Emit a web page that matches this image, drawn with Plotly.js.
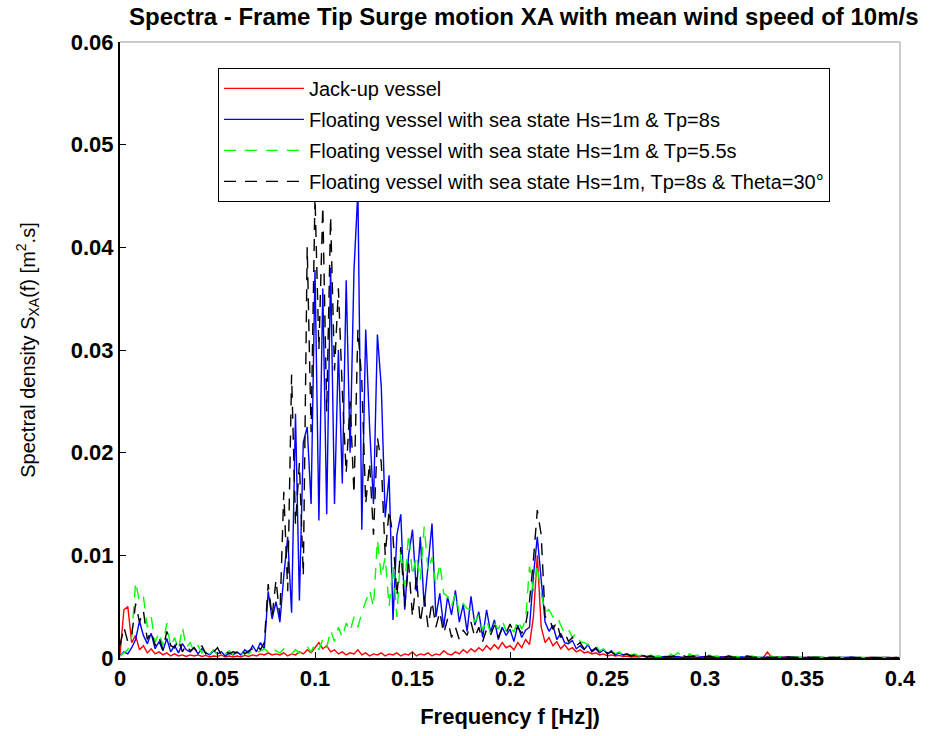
<!DOCTYPE html>
<html>
<head>
<meta charset="utf-8">
<script src="https://cdn.plot.ly/plotly-3.0.1.min.js"></script>
<style>html,body{margin:0;padding:0;background:#fff}#chart{width:937px;height:736px}</style>
</head>
<body>
<div id="chart"></div>
<script>
// Frequency grid: starts at 0 Hz, step 0.002 Hz (201 points up to 0.4 Hz)
const freqStart = 0;
const freqStep = 0.002;

// Spectral density values in units of 1e-3 m^2.s
const jackUp = [
0.3,4.7,5.0,1.5,2.2,0.8,1.2,0.5,0.9,0.4,
0.6,0.3,0.5,0.2,0.4,0.2,0.3,0.15,0.3,0.2,
0.3,0.15,0.25,0.1,0.2,0.15,0.3,0.1,0.2,0.1,
0.2,0.1,0.25,0.15,0.3,0.2,0.4,0.3,0.5,0.3,
0.4,0.3,0.5,0.2,0.4,0.3,0.6,0.4,0.8,0.5,
1.0,1.5,0.9,1.2,0.6,0.8,0.4,0.6,0.3,0.5,
0.4,0.8,0.3,0.5,0.2,0.4,0.3,0.5,0.2,0.4,
0.3,0.5,0.2,0.4,0.3,0.6,0.2,0.4,0.3,0.5,
0.2,0.4,0.3,0.7,0.4,0.3,0.6,0.4,0.8,0.5,
0.9,0.6,1.0,0.7,1.2,0.8,1.3,0.9,1.5,1.0,
1.2,0.8,1.5,1.0,1.8,1.3,4.0,10.0,3.0,1.5,
2.0,1.2,1.6,0.9,1.3,0.8,1.0,0.6,0.8,0.5,
0.6,0.4,0.5,0.3,0.4,0.2,0.3,0.2,0.25,0.15,
0.2,0.1,0.15,0.1,0.2,0.08,0.1,0.05,0.1,0.05,
0.05,0.1,0.05,0.08,0.1,0.05,0.03,0.08,0.05,0.1,
0.05,0.03,0.06,0.05,0.1,0.04,0.05,0.03,0.06,0.05,
0.04,0.06,0.1,0.05,0.03,0.05,0.6,0.1,0.05,0.08,
0.05,0.1,0.05,0.03,0.06,0.04,0.05,0.08,0.04,0.05,
0.03,0.05,0.04,0.06,0.03,0.05,0.04,0.03,0.05,0.04,
0.03,0.04,0.05,0.03,0.04,0.03,0.05,0.04,0.03,0.04,
0.03];

const floatTp8 = [
0.2,0.6,0.4,1.0,1.8,3.6,2.2,1.4,2.4,0.9,
1.6,0.7,1.9,0.6,1.2,0.5,1.4,0.8,0.6,1.0,
0.4,0.9,0.5,0.3,0.7,0.4,0.6,0.2,0.5,0.3,
0.6,0.3,0.8,0.5,1.2,0.6,1.5,0.9,6.5,3.8,
5.5,3.5,8.0,11.8,4.4,23.8,5.6,21.0,22.5,15.0,
37.8,13.4,36.0,14.0,38.0,15.0,30.0,17.0,36.8,20.0,
37.8,45.5,12.5,32.0,22.5,15.0,31.5,26.4,13.7,17.8,
3.7,12.0,14.0,4.7,10.0,12.5,6.5,11.8,5.0,9.0,
13.1,4.0,6.3,3.0,6.0,4.2,6.6,3.5,5.2,2.6,
6.0,3.2,4.5,2.0,4.7,2.5,3.7,1.8,3.0,2.2,
2.8,1.6,3.2,2.0,2.7,3.0,8.0,11.8,7.6,3.5,
2.6,3.2,1.8,2.4,1.5,1.4,1.7,0.9,1.2,0.8,
1.3,0.6,0.9,0.5,0.8,0.4,0.7,0.3,0.5,0.3,
0.4,0.2,0.3,0.2,0.25,0.15,0.2,0.1,0.15,0.1,
0.1,0.2,0.1,0.15,0.05,0.1,0.2,0.1,0.05,0.1,
0.15,0.1,0.05,0.1,0.08,0.05,0.1,0.15,0.05,0.1,
0.08,0.05,0.1,0.06,0.05,0.08,0.1,0.05,0.06,0.1,
0.05,0.08,0.1,0.05,0.06,0.04,0.08,0.05,0.1,0.05,
0.06,0.04,0.05,0.08,0.05,0.04,0.06,0.05,0.08,0.04,
0.05,0.06,0.04,0.05,0.03,0.05,0.04,0.06,0.04,0.05,
0.04];

const floatTp55 = [
0.2,0.5,0.8,2.0,7.4,5.5,6.0,3.0,4.0,1.5,
2.5,1.2,3.4,1.0,2.0,0.8,3.0,1.0,1.5,0.6,
1.2,0.5,0.9,0.4,0.8,0.3,0.6,0.4,0.7,0.3,
0.5,0.3,0.6,0.4,0.8,0.5,0.7,0.9,0.6,1.0,
0.7,0.5,0.9,0.6,0.4,0.8,0.5,0.7,1.1,0.6,
1.4,0.8,1.8,1.0,2.7,1.6,3.0,2.0,3.4,2.6,
4.0,3.0,4.4,5.5,6.6,5.0,11.5,7.9,9.8,5.0,
9.0,4.0,10.5,7.0,12.1,8.0,10.0,7.6,12.8,8.5,
9.8,7.0,9.2,6.3,6.0,5.0,6.3,4.4,5.3,4.8,
4.7,3.5,4.2,2.7,3.7,2.4,3.4,2.8,3.7,2.6,
3.2,2.5,3.7,2.8,3.7,8.9,6.5,9.0,6.3,4.5,
4.7,4.0,4.2,3.2,2.4,2.8,2.0,2.4,1.6,1.5,
1.3,1.0,1.2,0.7,0.9,0.5,0.7,0.4,0.6,0.3,
0.5,0.3,0.4,0.2,0.3,0.2,0.3,0.15,0.2,0.1,
0.2,0.4,0.2,0.5,0.3,0.2,0.4,0.2,0.3,0.15,
0.25,0.3,0.15,0.2,0.1,0.15,0.25,0.1,0.15,0.1,
0.15,0.1,0.2,0.1,0.08,0.15,0.1,0.2,0.08,0.1,
0.15,0.1,0.08,0.12,0.1,0.06,0.1,0.08,0.05,0.1,
0.08,0.06,0.1,0.05,0.08,0.06,0.05,0.08,0.04,0.06,
0.05,0.04,0.06,0.05,0.04,0.05,0.03,0.04,0.05,0.03,
0.04];

const floatTheta30 = [
1.2,3.0,1.6,2.2,5.3,3.5,4.6,1.8,2.6,1.2,
2.0,0.8,2.6,1.2,1.0,1.8,0.6,1.3,0.7,1.0,
0.5,1.2,0.4,0.8,0.6,1.0,0.3,0.7,0.4,0.6,
0.5,0.9,0.4,0.7,0.9,1.3,0.8,1.5,7.2,4.0,
7.6,4.0,16.2,6.5,27.6,13.0,19.0,8.0,40.0,22.0,
45.0,30.0,44.0,24.0,43.0,28.0,36.0,26.0,18.0,25.0,
16.0,32.0,27.0,15.0,19.0,12.0,21.5,19.0,10.0,14.4,
11.8,6.0,10.8,5.0,9.2,4.0,7.9,3.4,6.0,3.0,
5.5,3.0,4.5,2.4,3.8,2.0,3.0,1.8,2.7,2.2,
3.5,2.0,3.0,1.6,2.8,2.2,3.2,2.0,2.9,2.4,
3.3,2.5,3.0,2.4,3.2,5.5,9.5,14.4,12.0,4.0,
4.0,2.8,3.5,2.0,2.5,1.6,2.0,1.2,1.5,0.9,
1.2,0.7,1.0,0.5,0.8,0.4,0.6,0.3,0.5,0.3,
0.4,0.2,0.3,0.15,0.25,0.1,0.2,0.1,0.15,0.1,
0.15,0.1,0.2,0.1,0.3,0.15,0.1,0.2,0.1,0.15,
0.1,0.2,0.1,0.05,0.15,0.1,0.2,0.1,0.08,0.1,
0.15,0.2,0.1,0.05,0.1,0.08,0.12,0.1,0.05,0.1,
0.2,0.1,0.08,0.1,0.05,0.15,0.1,0.06,0.08,0.05,
0.1,0.08,0.05,0.06,0.04,0.08,0.05,0.04,0.06,0.05,
0.04,0.06,0.05,0.04,0.05,0.03,0.05,0.04,0.03,0.05,
0.04];

const seriesNames = [
  "Jack-up vessel",
  "Floating vessel with sea state Hs=1m &amp; Tp=8s",
  "Floating vessel with sea state Hs=1m &amp; Tp=5.5s",
  "Floating vessel with sea state Hs=1m, Tp=8s &amp; Theta=30°"
];
const xTickVals = [0,0.05,0.1,0.15,0.2,0.25,0.3,0.35,0.4];
const xTickText = ["0","0.05","0.1","0.15","0.2","0.25","0.3","0.35","0.4"];
const yTickVals = [0,0.01,0.02,0.03,0.04,0.05,0.06];
const yTickText = ["0","0.01","0.02","0.03","0.04","0.05","0.06"];

const toSI = a => a.map(v => v / 1000);

function mk(vals, name, color, dash, grp) {
  return {
    type: "scatter", mode: "lines",
    x0: freqStart, dx: freqStep, y: toSI(vals),
    name: name, legendgroup: grp,
    line: {color: color, width: 1.4, dash: dash}
  };
}

const data = [
  mk(jackUp, seriesNames[0], "#ff0000", "solid", "g1"),
  mk(floatTp8, seriesNames[1], "#0000ff", "solid", "g2"),
  mk(floatTp55, seriesNames[2], "#00ff00", "12px,9px", "g3"),
  mk(floatTheta30, seriesNames[3], "#000000", "12px,9px", "g4")
];

const tickFont = {family: "Liberation Sans, Arial, sans-serif", size: 22, color: "#000", weight: "bold"};

const layout = {
  width: 937, height: 736,
  margin: {l: 120, r: 37, t: 42, b: 78},
  paper_bgcolor: "#fff", plot_bgcolor: "#fff",
  showlegend: true,
  title: {
    text: "Spectra - Frame Tip Surge motion XA with mean wind speed of 10m/s",
    font: {family: "Liberation Sans, Arial, sans-serif", size: 24, color: "#000", weight: "bold"},
    xref: "container", x: 0.559, xanchor: "center",
    yref: "container", y: 0.978, yanchor: "middle"
  },
  xaxis: {
    range: [0, 0.4], tickvals: xTickVals, ticktext: xTickText,
    ticks: "inside", ticklen: 6, tickcolor: "#000", tickwidth: 1,
    showline: true, linecolor: "#000", linewidth: 2,
    showgrid: false, zeroline: false,
    tickfont: tickFont,
    title: {text: "Frequency f [Hz])", font: {family: "Liberation Sans, Arial, sans-serif", size: 22, color: "#000", weight: "bold"}, standoff: 18}
  },
  yaxis: {
    range: [0, 0.06], tickvals: yTickVals, ticktext: yTickText,
    ticks: "inside", ticklen: 6, tickcolor: "#000", tickwidth: 1,
    showline: true, linecolor: "#000", linewidth: 2,
    showgrid: false, zeroline: false,
    tickfont: tickFont,
    title: {text: "Spectral density S<sub>XA</sub>(f) [m<sup>2</sup>.s]", font: {family: "Liberation Sans, Arial, sans-serif", size: 20, color: "#000"}, standoff: 30}
  },
  legend: {
    x: 0.1256, y: 0.958, xanchor: "left", yanchor: "top",
    bgcolor: "#fff", bordercolor: "#000", borderwidth: 1,
    itemwidth: 80, tracegroupgap: 2,
    font: {family: "Liberation Sans, Arial, sans-serif", size: 20, color: "#000"}
  },
  shapes: [
    {type: "line", xref: "paper", yref: "paper", x0: 0, x1: 1, y0: 1, y1: 1, line: {color: "#bbbbbb", width: 1.5}},
    {type: "line", xref: "paper", yref: "paper", x0: 1, x1: 1, y0: 0, y1: 1, line: {color: "#bbbbbb", width: 1.5}}
  ]
};

Plotly.newPlot("chart", data, layout, {displayModeBar: false, staticPlot: true});
</script>
</body>
</html>
